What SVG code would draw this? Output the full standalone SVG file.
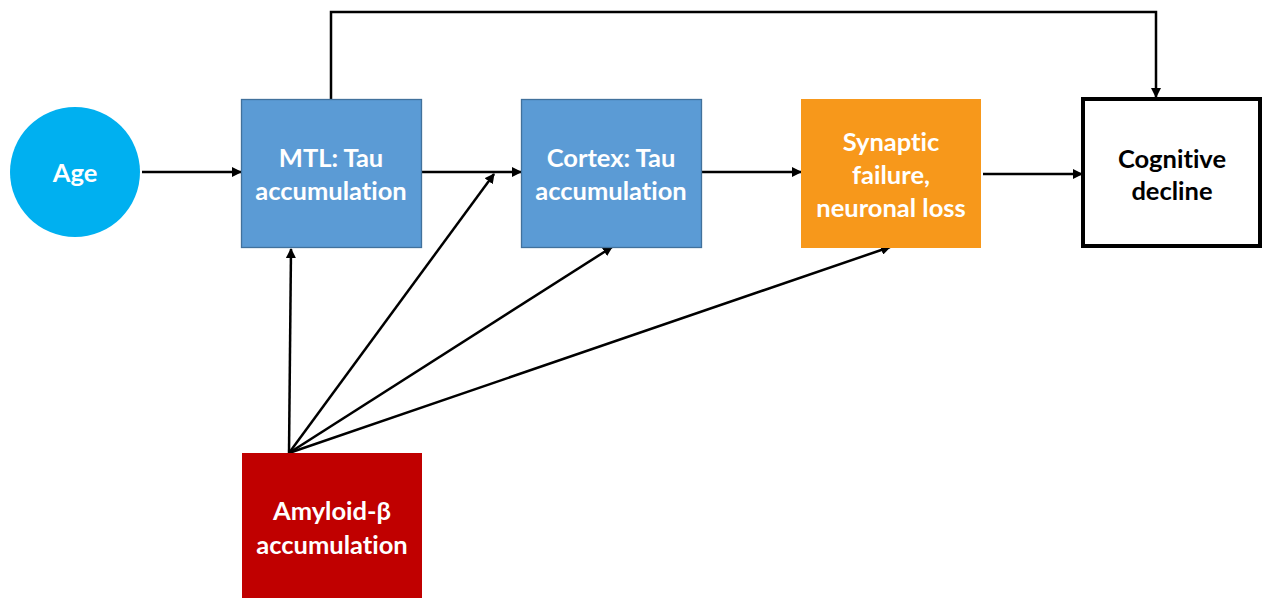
<svg xmlns="http://www.w3.org/2000/svg" width="1262" height="598" viewBox="0 0 1262 598">
<defs>
<marker id="ah" viewBox="0 0 10 10" refX="9" refY="5" markerWidth="4" markerHeight="4" orient="auto" markerUnits="strokeWidth">
<path d="M0,0 L10,5 L0,10 Z" fill="#000"/>
</marker>
<style>
.t{font-family:Lato,"Open Sans","Liberation Sans",sans-serif;font-weight:bold;font-size:25.5px;text-anchor:middle;dominant-baseline:central;font-variant-ligatures:none}
.w{fill:#fff}
.k{fill:#000}
.c{fill:none;stroke:#000;stroke-width:2.5;marker-end:url(#ah)}
.blue{fill:#5B9BD5;stroke:#41719C;stroke-width:1.3}
</style>
</defs>
<rect width="1262" height="598" fill="#fff"/>
<g id="connectors">
<path class="c" d="M142,172 H241"/>
<path class="c" d="M421,172 H521"/>
<path class="c" d="M702,172 H801"/>
<path class="c" d="M983,174 H1082"/>
<path class="c" d="M331,99 V12 H1156 V97"/>
<path class="c" d="M289,453 L291,249"/>
<path class="c" d="M289,453 L494,174"/>
<path class="c" d="M289,453 L612,247"/>
<path class="c" d="M289,453 L890,247"/>
</g>
<g id="age">
<circle cx="75" cy="172" r="65" fill="#00B0F0"/>
<text class="t w" x="75" y="172">Age</text>
</g>
<g id="mtl">
<rect class="blue" x="241.5" y="99.5" width="180" height="148"/>
<text class="t w" x="331" y="157">MTL: Tau</text>
<text class="t w" x="331" y="190">accumulation</text>
</g>
<g id="cortex">
<rect class="blue" x="521.5" y="99.5" width="180" height="148"/>
<text class="t w" x="611" y="157">Cortex: Tau</text>
<text class="t w" x="611" y="190">accumulation</text>
</g>
<g id="synaptic">
<rect x="801" y="99" width="180" height="149" fill="#F7981B"/>
<text class="t w" x="891" y="141">Synaptic</text>
<text class="t w" x="891" y="174">failure,</text>
<text class="t w" x="891" y="207">neuronal loss</text>
</g>
<g id="cognitive">
<rect x="1083" y="99" width="177" height="147" fill="#fff" stroke="#000" stroke-width="4"/>
<text class="t k" x="1172" y="158">Cognitive</text>
<text class="t k" x="1172" y="190">decline</text>
</g>
<g id="amyloid">
<rect x="242" y="453" width="180" height="145" fill="#C00000"/>
<text class="t w" x="332" y="510">Amyloid-β</text>
<text class="t w" x="332" y="544">accumulation</text>
</g>
</svg>
